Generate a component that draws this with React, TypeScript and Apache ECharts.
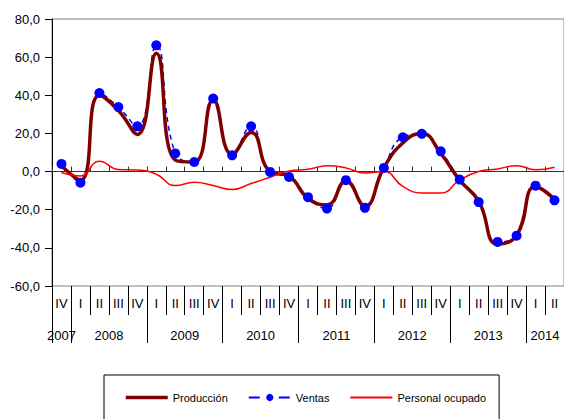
import React, { useEffect, useRef } from "react";
import * as echarts from "echarts";

const quarters = [
  "IV",
  "I", "II", "III", "IV",
  "I", "II", "III", "IV",
  "I", "II", "III", "IV",
  "I", "II", "III", "IV",
  "I", "II", "III", "IV",
  "I", "II", "III", "IV",
  "I", "II",
];

const yearLabels = ["2007", "2008", "2009", "2010", "2011", "2012", "2013", "2014"];
// year groups: start index (in quarters) of each year and its number of quarters
const yearStarts = [0, 1, 5, 9, 13, 17, 21, 25];
const yearLengths = [1, 4, 4, 4, 4, 4, 4, 2];

const produccion = [3, -4.5, 40, 32, 19.5, 62, 6, 5, 37.5, 9, 20.5, 0, -2.5, -14, -17.5, -5, -18, 2, 15, 20, 9.5, -4.5, -15.5, -38, -33.5, -8, -14.5];
const ventas = [4, -5.8, 41.2, 33.8, 23.7, 66.2, 9.5, 5, 38.3, 8.5, 23.7, -0.2, -2.8, -13.4, -19.4, -4.5, -19, 1.9, 18, 19.8, 10.6, -4.2, -16, -36.9, -33.6, -7.4, -15.1];
const personal = [-0.5, -2.3, 5.4, 1.1, 0.8, -1.4, -7.3, -5.6, -7.3, -9.4, -6.3, -3, 0.3, 1.2, 3, 1.9, -0.8, 0, -7.8, -11.2, -11.3, -4.5, 0, 1.4, 3.1, 0.9, 2.3];

const FONT = "'Liberation Sans', Arial, sans-serif";

export default function App() {
  const ref = useRef<HTMLDivElement>(null);

  useEffect(() => {
    document.body.style.margin = "0";
    if (!ref.current) return;
    const chart = echarts.init(ref.current, undefined, { renderer: "svg" });

    const yearLabelPos = yearStarts.map((s, i) => s + yearLengths[i] / 2);

    chart.setOption({
      animation: false,
      textStyle: { fontFamily: FONT },
      grid: {
        left: 52,
        right: -7,
        top: 19,
        bottom: 133,
        show: true,
        borderColor: "#808080",
        borderWidth: 1,
        backgroundColor: "transparent",
      },
      legend: {
        left: 104,
        top: 375,
        padding: [17, 13, 17, 20],
        itemWidth: 42,
        itemHeight: 9,
        itemGap: 20,
        borderColor: "#000",
        borderWidth: 1,
        textStyle: { fontFamily: FONT, fontSize: 11, color: "#000" },
        data: [
          { name: "Producción", itemStyle: { opacity: 0 }, lineStyle: { width: 3.5 } },
          { name: "Ventas", lineStyle: { type: [11, 19], width: 2 } },
          { name: "Personal ocupado", itemStyle: { opacity: 0 }, lineStyle: { width: 2 } },
        ],
      },
      xAxis: [
        {
          type: "category",
          data: quarters,
          position: "bottom",
          boundaryGap: true,
          axisLine: { show: true, onZero: true, lineStyle: { color: "#333", width: 1 } },
          axisTick: { show: true, interval: 0, inside: true, length: 5, lineStyle: { color: "#333" } },
          axisLabel: { show: false },
          splitLine: { show: false },
        },
        {
          type: "category",
          data: quarters,
          position: "bottom",
          boundaryGap: true,
          axisLine: { show: false, onZero: false },
          axisTick: { show: true, interval: 0, length: 29, lineStyle: { color: "#000" } },
          axisLabel: { interval: 0, margin: 11, fontSize: 13, color: "#000", fontFamily: FONT },
          splitLine: { show: false },
        },
        {
          type: "value",
          min: 0,
          max: quarters.length,
          position: "bottom",
          axisLine: { show: false, onZero: false },
          axisTick: { show: true, customValues: yearStarts, length: 57, lineStyle: { color: "#000" } },
          axisLabel: {
            customValues: yearLabelPos,
            margin: 43,
            fontSize: 13,
            color: "#000",
            fontFamily: FONT,
            formatter: (v: number) => {
              const i = yearLabelPos.indexOf(v);
              return i >= 0 ? yearLabels[i] : "";
            },
          },
          splitLine: { show: false },
        },
      ],
      yAxis: {
        type: "value",
        min: -60,
        max: 80,
        interval: 20,
        axisLine: { show: true, onZero: false, lineStyle: { color: "#000", width: 1 } },
        axisTick: { show: true, length: 7, lineStyle: { color: "#000" } },
        axisLabel: {
          margin: 12,
          fontSize: 13,
          color: "#000",
          fontFamily: FONT,
          formatter: (v: number) => v.toFixed(1).replace(".", ","),
        },
        splitLine: { show: false },
      },
      series: [
        {
          name: "Producción",
          type: "line",
          xAxisIndex: 0,
          data: produccion,
          smooth: 0.5,
          symbol: "none",
          lineStyle: { color: "#800000", width: 3.5 },
          itemStyle: { color: "#800000" },
          z: 3,
        },
        {
          name: "Ventas",
          type: "line",
          xAxisIndex: 0,
          data: ventas,
          smooth: 0.5,
          symbol: "circle",
          showSymbol: false,
          symbolSize: 10,
          lineStyle: { color: "#0000FF", width: 1.5, type: [5, 4] },
          itemStyle: { color: "#0000FF" },
          z: 2,
        },
        {
          name: "Personal ocupado",
          type: "line",
          xAxisIndex: 0,
          data: personal,
          smooth: 0.5,
          symbol: "none",
          lineStyle: { color: "#FF0000", width: 1.5 },
          itemStyle: { color: "#FF0000" },
          z: 4,
        },
        {
          name: "Ventas",
          type: "line",
          xAxisIndex: 0,
          data: ventas,
          symbol: "circle",
          symbolSize: 10,
          lineStyle: { width: 0, opacity: 0 },
          itemStyle: { color: "#0000FF" },
          z: 5,
        },
      ],
    });

    return () => chart.dispose();
  }, []);

  return (
    <div
      ref={ref}
      style={{ position: "absolute", left: 0, top: 0, width: 564, height: 419 }}
    />
  );
}
